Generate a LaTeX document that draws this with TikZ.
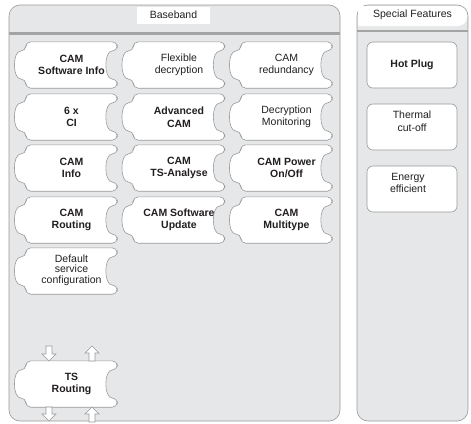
\documentclass[tikz,border=0pt]{standalone}
\usepackage{fontspec}
\setmainfont{Liberation Sans}
\usepackage{tikz}

\definecolor{panelgray}{HTML}{E6E7E8}
\definecolor{linegray}{HTML}{9A9A9A}
\definecolor{inkgray}{HTML}{231F20}

\pgfdeclarelayer{background}
\pgfsetlayers{background,main}

\tikzset{
	panel/.style={draw=linegray, fill=panelgray, line width=0.6pt, rounded corners=11pt},
	sepline/.style={draw=linegray!90, line width=3pt},
	title/.style={fill=white, inner sep=0pt, minimum height=17pt, font=\fontsize{10.5}{12.5}\selectfont, text=inkgray},
	cell/.style={inner sep=0pt, minimum width=91pt, minimum height=46pt, align=center, text=inkgray, font=\fontsize{10.5}{12.5}\selectfont},
	boldcell/.style={cell, font=\fontsize{10.5}{12.5}\selectfont\bfseries},
	piece/.style={draw=linegray, fill=white, line width=0.6pt, rounded corners=5pt},
	feature/.style={cell, draw=linegray, fill=white, line width=0.6pt, rounded corners=6pt, minimum width=90pt},
	hollow/.style={draw=linegray, fill=white, line width=0.6pt, line join=miter}
}

% puzzle outline round a named node: bump on the left, notch on the right
\newcommand{\puzzle}[1]{%
	\begin{pgfonlayer}{background}
	\draw[piece] (#1.north west) -- (#1.north east) -- ([yshift=14pt]#1.east) .. controls ([xshift=-13.5pt,yshift=14pt]#1.east) and ([xshift=-13.5pt,yshift=-14pt]#1.east) .. ([yshift=-14pt]#1.east) -- (#1.south east) -- (#1.south west) -- ([yshift=-14pt]#1.west) .. controls ([xshift=-13.5pt,yshift=-14pt]#1.west) and ([xshift=-13.5pt,yshift=14pt]#1.west) .. ([yshift=14pt]#1.west) -- cycle;
	\end{pgfonlayer}}

\begin{document}
\begin{tikzpicture}[x=1pt, y=-1pt]
	\useasboundingbox (0,0) rectangle (471,423);
	\begin{pgfonlayer}{background}
	\draw[panel] (9,5) rectangle (340,421);
	\draw[panel] (357,5) rectangle (468,421);
	\fill[white, rounded corners=9pt] (358,6) -- (467,6) -- (467,26) [sharp corners] -- (358,26) -- cycle;
	\draw[sepline] (9,33.5) -- (340,33.5);
	\draw[sepline, line width=2pt] (357,31) -- (468,31);
	\end{pgfonlayer}
	% titles
	\node [title, minimum width=73pt] (baseband) at (173.5,15) {Baseband};
	\node [title, fill=none] (special) at (412.5,15) {Special Features};
	% baseband pieces
	\node [boldcell] (swinfo) at (71.5,65) {CAM\\Software Info}; \puzzle{swinfo}
	\node [cell] (flexdec) at (179,65) {Flexible\\decryption}; \puzzle{flexdec}
	\node [cell] (redund) at (286.5,65) {CAM\\redundancy}; \puzzle{redund}
	\node [boldcell] (ci) at (71.5,117) {6 x\\CI}; \puzzle{ci}
	\node [boldcell] (advcam) at (179,117) {Advanced\\CAM}; \puzzle{advcam}
	\node [cell] (decmon) at (286.5,117) {Decryption\\Monitoring}; \puzzle{decmon}
	\node [boldcell] (caminfo) at (71.5,168) {CAM\\Info}; \puzzle{caminfo}
	\node [boldcell] (tsana) at (179,168) {CAM\\TS-Analyse}; \puzzle{tsana}
	\node [boldcell] (power) at (286.5,168) {CAM Power\\On/Off}; \puzzle{power}
	\node [boldcell] (camrout) at (71.5,220) {CAM\\Routing}; \puzzle{camrout}
	\node [boldcell] (swupd) at (179,220) {CAM Software\\Update}; \puzzle{swupd}
	\node [boldcell] (multi) at (286.5,220) {CAM\\Multitype}; \puzzle{multi}
	\node [cell] (default) at (71.5,271) {\raisebox{4pt}{\shortstack{Default\\service\\configuration}}}; \puzzle{default}
	\node [boldcell] (tsrout) at (71.5,384) {TS\\Routing}; \puzzle{tsrout}
	% in/out arrows of TS Routing
	\draw[hollow] (46,346) -- (52,346) -- (52,354) -- (56,354) -- (49,361) -- (42,354) -- (46,354) -- cycle;
	\draw[hollow] (92,346) -- (99,353) -- (95,353) -- (95,361) -- (89,361) -- (89,353) -- (85,353) -- cycle;
	\draw[hollow] (46,407) -- (52,407) -- (52,414) -- (56,414) -- (49,421) -- (42,414) -- (46,414) -- cycle;
	\draw[hollow] (92,407) -- (99,414) -- (95,414) -- (95,422) -- (89,422) -- (89,414) -- (85,414) -- cycle;
	% special features
	\node [feature, font=\fontsize{10.5}{12.5}\selectfont\bfseries] (hotplug) at (412,65) {Hot Plug};
	\node [feature, text depth=12pt] (thermal) at (412,127) {Thermal\\cut-off};
	\node [feature, text depth=12pt] (energy) at (412,189) {Energy\hspace*{8pt}\\efficient\hspace*{8pt}};
\end{tikzpicture}
\end{document}
